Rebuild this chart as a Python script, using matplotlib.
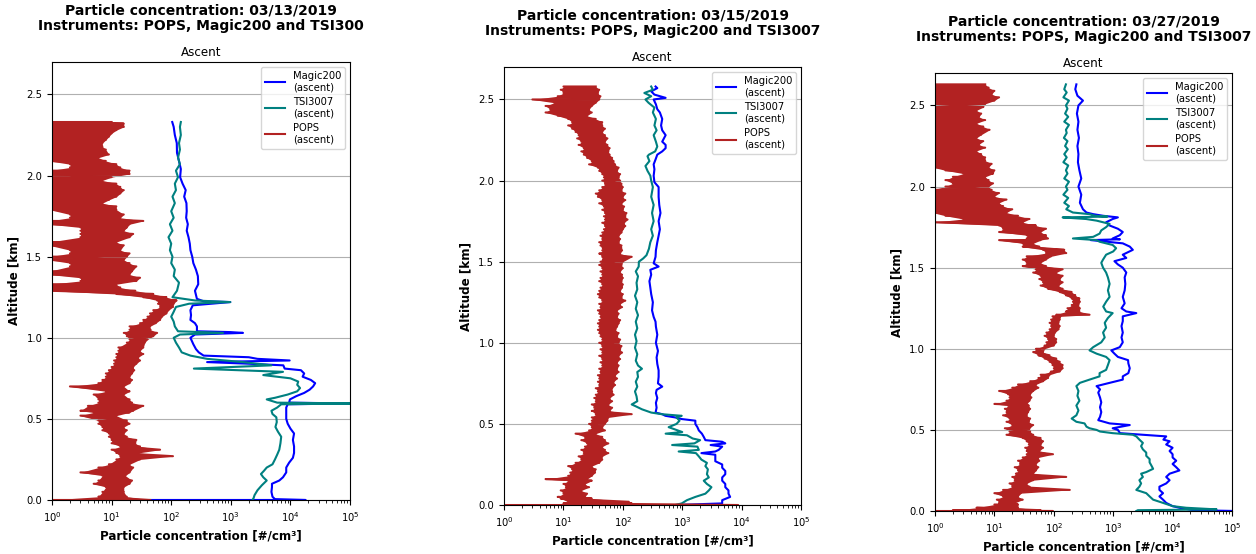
import numpy as np
import matplotlib
matplotlib.use("Agg")
import matplotlib.pyplot as plt

# ---- 03/13/2019 ----
magic_0313_alt = [0.0, 0.0, 0.005, 0.02, 0.05, 0.08, 0.10, 0.12, 0.14, 0.17, 0.20, 0.23, 0.26, 0.29, 0.33,
                  0.37, 0.41, 0.44, 0.47, 0.50, 0.53, 0.57, 0.59, 0.595, 0.60, 0.62, 0.64, 0.66, 0.68, 0.70,
                  0.72, 0.74, 0.76, 0.78, 0.80, 0.81, 0.83, 0.84, 0.85, 0.86, 0.87, 0.88, 0.89, 0.91, 0.93,
                  0.96, 1.00, 1.02, 1.03, 1.035, 1.04, 1.07, 1.09, 1.11, 1.14, 1.17, 1.20, 1.22, 1.225, 1.24,
                  1.29, 1.33, 1.38, 1.42, 1.46, 1.50, 1.54, 1.58, 1.62, 1.66, 1.70, 1.74, 1.78, 1.83, 1.87,
                  1.91, 1.95, 1.99, 2.04, 2.09, 2.14, 2.20, 2.25, 2.30, 2.33]
magic_0313 = [45, 18000, 5500, 5000, 4800, 4900, 4900, 6500, 7500, 8500, 8500, 9500, 11000, 11500, 11500,
              11000, 11500, 10000, 9000, 8500, 8500, 8500, 9000, 100000, 9500, 9800, 12500, 17000, 21000, 24000,
              26000, 22000, 16000, 17000, 15000, 8000, 7600, 2000, 400, 9700, 2800, 2000, 350, 290, 260,
              235, 210, 250, 1600, 980, 270, 270, 250, 210, 215, 210, 230, 980, 350, 270,
              250, 284, 280, 260, 235, 225, 210, 205, 195, 182, 190, 178, 182, 180, 165,
              175, 155, 141, 145, 135, 125, 124, 115, 110, 104]

tsi_0313_alt = [0.0, 0.01, 0.03, 0.06, 0.09, 0.12, 0.14, 0.16, 0.18, 0.20, 0.22, 0.25, 0.28, 0.31, 0.35,
                0.39, 0.42, 0.45, 0.48, 0.51, 0.53, 0.55, 0.57, 0.59, 0.595, 0.60, 0.62, 0.63, 0.65, 0.67,
                0.69, 0.71, 0.73, 0.75, 0.77, 0.79, 0.81, 0.83, 0.85, 0.87, 0.89, 0.91, 0.94, 0.97, 1.00,
                1.02, 1.03, 1.04, 1.07, 1.10, 1.13, 1.16, 1.19, 1.21, 1.22, 1.23, 1.25, 1.29, 1.34, 1.38,
                1.42, 1.46, 1.50, 1.54, 1.58, 1.62, 1.66, 1.70, 1.74, 1.78, 1.83, 1.87, 1.91, 1.95, 1.99,
                2.03, 2.07, 2.11, 2.16, 2.20, 2.25, 2.30, 2.33]
tsi_0313 = [2300, 2400, 2500, 2800, 3300, 4000, 3500, 3200, 3600, 4000, 5000, 5500, 6000, 6500, 6800,
            7000, 6200, 5600, 5900, 5800, 5000, 4800, 6000, 7000, 100000, 6000, 4000, 5500, 9000, 13000,
            14500, 13000, 13500, 10000, 3500, 7500, 240, 4800, 1600, 400, 210, 150, 135, 120, 110,
            140, 740, 130, 115, 110, 100, 110, 120, 200, 980, 250, 105, 125, 135, 110,
            115, 100, 105, 95, 100, 90, 105, 95, 110, 100, 115, 105, 120, 115, 130,
            120, 140, 130, 140, 135, 145, 140, 145]

pops_0313_alt = [0.0, 0.02, 0.05, 0.08, 0.10, 0.12, 0.15, 0.17, 0.20, 0.22, 0.25, 0.27, 0.29, 0.31, 0.33,
                 0.35, 0.37, 0.39, 0.41, 0.43, 0.45, 0.47, 0.49, 0.52, 0.54, 0.55, 0.58, 0.60, 0.62, 0.65,
                 0.67, 0.70, 0.72, 0.74, 0.76, 0.78, 0.80, 0.82, 0.84, 0.86, 0.88, 0.90, 0.92, 0.94, 0.97,
                 0.99, 1.01, 1.03, 1.05, 1.07, 1.09, 1.11, 1.13, 1.15, 1.17, 1.19, 1.21, 1.23, 1.25, 1.27,
                 1.29, 1.31, 1.33, 1.35, 1.37, 1.39, 1.41, 1.44, 1.46, 1.48, 1.50, 1.52, 1.54, 1.57, 1.59,
                 1.62, 1.64, 1.66, 1.68, 1.70, 1.72, 1.74, 1.76, 1.79, 1.81, 1.83, 1.85, 1.87, 1.89, 1.91,
                 1.93, 1.95, 1.97, 1.99, 2.01, 2.03, 2.05, 2.07, 2.09, 2.11, 2.13, 2.16, 2.18, 2.20, 2.22,
                 2.24, 2.26, 2.28, 2.30, 2.32, 2.33]
pops_0313_lo = [0.9, 6, 7, 8, 5, 6, 7, 3, 6, 9, 12, 14, 12, 10, 14,
                10, 10, 9, 9, 7, 7, 6, 6, 3, 5, 3, 4, 6, 6, 5,
                8, 2, 6, 7, 8, 8, 9, 10, 11, 11, 12, 12, 13, 13, 18,
                20, 18, 16, 20, 20, 30, 34, 40, 44, 50, 65, 60, 58, 34, 12,
                0.9, 0.9, 0.9, 3, 3, 0.9, 0.9, 2, 2, 0.9, 0.9, 2, 2, 0.9, 0.9,
                3, 3, 3, 3, 0.9, 0.9, 2, 2, 0.9, 0.9, 0.9, 0.9, 0.9, 0.9, 0.9,
                0.9, 0.9, 0.9, 0.9, 0.9, 0.9, 2, 2, 0.9, 0.9, 0.9, 0.9, 0.9, 0.9, 0.9,
                0.9, 0.9, 0.9, 0.9, 0.9, 0.9]
pops_0313_hi = [45, 18, 16, 16, 20, 22, 17, 20, 23, 20, 30, 107, 28, 65, 30,
                25, 26, 18, 16, 18, 16, 20, 18, 12, 20, 23, 34, 22, 20, 16,
                20, 16, 20, 22, 20, 22, 24, 23, 26, 30, 28, 34, 30, 34, 36,
                40, 50, 58, 45, 44, 55, 65, 70, 83, 90, 107, 110, 123, 83, 50,
                25, 14, 12, 26, 30, 20, 22, 26, 20, 16, 18, 20, 14, 16, 12,
                20, 23, 16, 18, 20, 34, 14, 16, 12, 12, 7, 9, 12, 14, 16,
                14, 12, 7, 10, 20, 20, 14, 12, 8, 6, 9, 8, 7, 7, 8,
                9, 10, 12, 16, 16, 10]

# ---- 03/15/2019 ----
magic_0315_alt = [0.0, 0.01, 0.03, 0.05, 0.07, 0.09, 0.11, 0.13, 0.15, 0.17, 0.19, 0.21, 0.23, 0.25, 0.27,
                  0.29, 0.31, 0.32, 0.33, 0.34, 0.36, 0.37, 0.38, 0.39, 0.40, 0.42, 0.44, 0.46, 0.48, 0.50,
                  0.52, 0.53, 0.54, 0.55, 0.56, 0.57, 0.60, 0.63, 0.66, 0.69, 0.71, 0.73, 0.75, 0.79, 0.83,
                  0.87, 0.91, 0.95, 1.00, 1.05, 1.10, 1.13, 1.16, 1.20, 1.25, 1.30, 1.34, 1.38, 1.42, 1.45,
                  1.47, 1.49, 1.53, 1.57, 1.62, 1.66, 1.70, 1.75, 1.80, 1.85, 1.90, 1.96, 1.99, 2.03, 2.07,
                  2.10, 2.13, 2.16, 2.18, 2.20, 2.22, 2.24, 2.28, 2.31, 2.34, 2.38, 2.42, 2.44, 2.47, 2.50,
                  2.51, 2.53, 2.55, 2.57, 2.58]
magic_0315 = [760, 4700, 4700, 6400, 6000, 6000, 5300, 5300, 4700, 4700, 5300, 5300, 4700, 4700, 3600,
              3600, 3600, 2100, 3600, 4100, 4700, 3000, 5300, 4700, 2450, 2300, 2140, 1900, 1800, 1660,
              1660, 980, 760, 520, 460, 355, 370, 360, 380, 360, 370, 460, 390, 400, 400,
              380, 370, 390, 360, 380, 360, 355, 330, 310, 320, 300, 290, 280, 300, 290,
              400, 330, 355, 360, 380, 400, 420, 400, 430, 410, 400, 400, 340, 330, 340,
              330, 355, 380, 460, 525, 525, 460, 525, 460, 440, 460, 420, 380, 360, 330,
              525, 340, 300, 380, 355]

tsi_0315_alt = [0.0, 0.01, 0.03, 0.05, 0.07, 0.09, 0.11, 0.13, 0.15, 0.17, 0.19, 0.22, 0.24, 0.26, 0.28,
                0.30, 0.32, 0.33, 0.34, 0.36, 0.37, 0.38, 0.40, 0.41, 0.43, 0.44, 0.45, 0.48, 0.50, 0.52,
                0.54, 0.55, 0.56, 0.57, 0.59, 0.61, 0.62, 0.64, 0.67, 0.70, 0.73, 0.76, 0.79, 0.82, 0.84,
                0.86, 0.89, 0.93, 0.97, 1.01, 1.05, 1.09, 1.13, 1.17, 1.21, 1.25, 1.29, 1.33, 1.37, 1.41,
                1.44, 1.47, 1.50, 1.52, 1.54, 1.58, 1.62, 1.66, 1.70, 1.75, 1.80, 1.85, 1.90, 1.96, 2.00,
                2.03, 2.06, 2.09, 2.12, 2.15, 2.16, 2.18, 2.21, 2.24, 2.28, 2.31, 2.34, 2.38, 2.42, 2.45,
                2.48, 2.50, 2.52, 2.54, 2.56, 2.58]
tsi_0315 = [760, 980, 1200, 1660, 2450, 2800, 3100, 2600, 2300, 2800, 2600, 2700, 2450, 2600, 2100,
            1900, 1700, 870, 1900, 1800, 675, 1600, 2000, 1500, 1200, 525, 1000, 590, 800, 900,
            800, 980, 450, 300, 210, 162, 141, 175, 170, 160, 175, 165, 180, 175, 210,
            180, 165, 175, 160, 170, 160, 175, 165, 180, 165, 175, 160, 175, 170, 180,
            165, 185, 186, 220, 250, 275, 290, 320, 300, 330, 310, 330, 300, 320, 300,
            290, 260, 240, 280, 260, 275, 350, 380, 360, 330, 370, 340, 360, 320, 340,
            270, 240, 300, 230, 320, 300]

pops_0315_alt = [0.0, 0.01, 0.02, 0.04, 0.05, 0.07, 0.09, 0.11, 0.13, 0.15, 0.16, 0.18, 0.20, 0.22, 0.24,
                 0.26, 0.28, 0.30, 0.32, 0.34, 0.36, 0.38, 0.40, 0.42, 0.44, 0.46, 0.48, 0.50, 0.52, 0.54,
                 0.56, 0.58, 0.60, 0.62, 0.64, 0.66, 0.68, 0.70, 0.72, 0.74, 0.76, 0.78, 0.80, 0.82, 0.84,
                 0.86, 0.88, 0.90, 0.92, 0.94, 0.96, 0.98, 1.00, 1.02, 1.04, 1.06, 1.08, 1.10, 1.12, 1.14,
                 1.16, 1.18, 1.20, 1.22, 1.24, 1.26, 1.28, 1.30, 1.32, 1.34, 1.36, 1.38, 1.40, 1.42, 1.44,
                 1.46, 1.48, 1.50, 1.53, 1.55, 1.57, 1.60, 1.62, 1.64, 1.66, 1.68, 1.70, 1.72, 1.74, 1.76,
                 1.78, 1.80, 1.82, 1.84, 1.86, 1.88, 1.90, 1.92, 1.94, 1.96, 1.98, 2.00, 2.02, 2.04, 2.06,
                 2.08, 2.10, 2.12, 2.14, 2.16, 2.18, 2.20, 2.22, 2.24, 2.26, 2.28, 2.30, 2.32, 2.34, 2.36,
                 2.38, 2.40, 2.42, 2.44, 2.46, 2.48, 2.50, 2.52, 2.54, 2.56, 2.58]
pops_0315_lo = [0.9, 10, 12, 9, 8, 10, 9, 11, 10, 12, 5, 12, 13, 14, 12,
                16, 20, 18, 22, 20, 23, 25, 20, 23, 16, 27, 30, 27, 30, 30,
                35, 30, 33, 30, 35, 33, 35, 38, 35, 40, 38, 40, 38, 42, 40,
                45, 42, 45, 40, 45, 42, 45, 40, 45, 42, 40, 38, 40, 38, 40,
                42, 40, 38, 42, 40, 45, 40, 38, 40, 42, 45, 40, 42, 45, 42,
                45, 40, 42, 45, 40, 45, 42, 40, 45, 42, 45, 48, 50, 45, 50,
                48, 50, 45, 48, 40, 45, 38, 35, 40, 45, 50, 45, 48, 45, 40,
                38, 27, 30, 25, 22, 20, 22, 18, 20, 17, 18, 16, 14, 12, 14,
                12, 8, 5, 6, 5, 7, 3, 8, 10, 9, 10]
pops_0315_hi = [8700, 141, 126, 30, 23, 25, 20, 27, 23, 30, 25, 30, 34, 35, 30,
                40, 45, 45, 57, 50, 45, 57, 50, 45, 35, 50, 45, 50, 55, 57,
                141, 60, 66, 57, 66, 60, 70, 66, 66, 74, 70, 80, 74, 85, 80,
                85, 80, 90, 85, 97, 90, 95, 85, 90, 80, 85, 75, 80, 85, 90,
                80, 85, 80, 97, 90, 110, 95, 100, 90, 97, 100, 95, 100, 97, 90,
                100, 95, 100, 141, 90, 97, 95, 85, 90, 85, 95, 100, 110, 105, 120,
                110, 115, 100, 105, 95, 110, 100, 110, 95, 100, 95, 90, 85, 90, 80,
                85, 74, 70, 66, 60, 57, 60, 55, 50, 55, 50, 45, 50, 45, 45,
                35, 25, 30, 27, 30, 35, 40, 42, 38, 40, 35]

# ---- 03/27/2019 ----
magic_0327_alt = [0.0, 0.005, 0.02, 0.03, 0.05, 0.07, 0.09, 0.11, 0.13, 0.15, 0.17, 0.19, 0.21, 0.23, 0.25,
                  0.27, 0.29, 0.31, 0.33, 0.35, 0.37, 0.39, 0.41, 0.43, 0.44, 0.46, 0.47, 0.48, 0.50, 0.51,
                  0.53, 0.54, 0.56, 0.58, 0.61, 0.64, 0.67, 0.70, 0.73, 0.75, 0.77, 0.79, 0.81, 0.83, 0.85,
                  0.88, 0.91, 0.93, 0.95, 0.97, 0.99, 1.01, 1.04, 1.07, 1.10, 1.14, 1.17, 1.20, 1.22, 1.23,
                  1.25, 1.28, 1.32, 1.36, 1.40, 1.44, 1.47, 1.50, 1.52, 1.54, 1.56, 1.58, 1.61, 1.63, 1.65,
                  1.67, 1.675, 1.68, 1.70, 1.72, 1.74, 1.76, 1.78, 1.80, 1.81, 1.82, 1.83, 1.84, 1.86, 1.90,
                  1.95, 2.00, 2.05, 2.10, 2.15, 2.20, 2.25, 2.30, 2.35, 2.40, 2.45, 2.50, 2.53, 2.56, 2.60,
                  2.63]
magic_0327 = [120000, 22000, 13000, 10000, 7800, 6900, 6000, 6900, 6000, 6000, 7800, 8900, 7800, 8900, 13000,
              11500, 10000, 11500, 10000, 10000, 8900, 10000, 7800, 8900, 7000, 7800, 3160, 1300, 1200, 980,
              1900, 870, 560, 600, 630, 600, 630, 600, 560, 600, 525, 870, 1450, 1450, 1800,
              1900, 1800, 1780, 1200, 1050, 930, 1290, 1450, 1380, 1450, 1380, 1450, 1450, 2450, 1660,
              1380, 1560, 1450, 1560, 1600, 1560, 1660, 1450, 1200, 1050, 1660, 1450, 2140, 1900, 1450,
              420, 1300, 980, 1290, 1450, 1200, 870, 760, 980, 1200, 675, 460, 355, 310, 275,
              290, 260, 290, 270, 255, 260, 250, 265, 250, 260, 245, 260, 310, 250, 230,
              240]

tsi_0327_alt = [0.0, 0.005, 0.01, 0.02, 0.03, 0.05, 0.07, 0.09, 0.11, 0.13, 0.15, 0.17, 0.19, 0.21, 0.23,
                0.24, 0.26, 0.28, 0.30, 0.32, 0.34, 0.36, 0.38, 0.40, 0.42, 0.44, 0.46, 0.47, 0.48, 0.49,
                0.50, 0.51, 0.52, 0.54, 0.55, 0.57, 0.59, 0.62, 0.65, 0.68, 0.71, 0.74, 0.77, 0.79, 0.81,
                0.83, 0.85, 0.87, 0.90, 0.93, 0.95, 0.97, 0.99, 1.01, 1.04, 1.07, 1.10, 1.13, 1.16, 1.19,
                1.22, 1.23, 1.26, 1.29, 1.32, 1.36, 1.40, 1.44, 1.47, 1.50, 1.53, 1.55, 1.58, 1.60, 1.62,
                1.64, 1.66, 1.67, 1.68, 1.69, 1.71, 1.73, 1.75, 1.77, 1.79, 1.80, 1.81, 1.815, 1.82, 1.83,
                1.84, 1.86, 1.88, 1.90, 1.93, 1.95, 1.98, 2.00, 2.03, 2.05, 2.08, 2.10, 2.13, 2.15, 2.18,
                2.20, 2.23, 2.25, 2.28, 2.30, 2.33, 2.35, 2.38, 2.40, 2.43, 2.45, 2.48, 2.50, 2.53, 2.55,
                2.58, 2.60, 2.63]
tsi_0327 = [2450, 2600, 55000, 17000, 10000, 6900, 4700, 4100, 3600, 2450, 2760, 2950, 2760, 3160, 2950,
            3600, 4700, 4400, 4100, 4100, 3600, 3600, 3160, 2950, 3160, 2760, 2450, 2140, 980, 600,
            525, 400, 355, 330, 240, 200, 240, 260, 240, 270, 250, 260, 240, 275, 400,
            590, 590, 760, 815, 870, 760, 525, 400, 460, 630, 720, 675, 760, 720, 815,
            980, 760, 680, 760, 870, 815, 870, 815, 760, 675, 630, 675, 760, 1000, 1120,
            980, 590, 525, 210, 460, 590, 630, 760, 870, 525, 350, 141, 800, 500, 400,
            210, 162, 180, 150, 175, 145, 170, 160, 180, 150, 170, 160, 175, 145, 165,
            150, 172, 155, 170, 148, 165, 160, 180, 150, 175, 155, 170, 160, 180, 145,
            165, 150, 160]

pops_0327_alt = [0.0, 0.005, 0.02, 0.04, 0.05, 0.07, 0.09, 0.11, 0.13, 0.15, 0.17, 0.19, 0.21, 0.23, 0.25,
                 0.27, 0.29, 0.31, 0.33, 0.35, 0.37, 0.39, 0.41, 0.43, 0.45, 0.47, 0.49, 0.51, 0.53, 0.55,
                 0.57, 0.59, 0.61, 0.63, 0.65, 0.66, 0.68, 0.70, 0.72, 0.74, 0.76, 0.78, 0.80, 0.82, 0.84,
                 0.86, 0.88, 0.90, 0.92, 0.94, 0.96, 0.98, 1.00, 1.02, 1.04, 1.06, 1.08, 1.10, 1.12, 1.14,
                 1.16, 1.18, 1.20, 1.21, 1.23, 1.25, 1.27, 1.29, 1.31, 1.33, 1.35, 1.37, 1.39, 1.41, 1.43,
                 1.45, 1.47, 1.49, 1.51, 1.53, 1.55, 1.57, 1.59, 1.61, 1.63, 1.65, 1.67, 1.68, 1.70, 1.72,
                 1.74, 1.76, 1.78, 1.80, 1.82, 1.84, 1.86, 1.88, 1.90, 1.92, 1.94, 1.96, 1.98, 2.00, 2.02,
                 2.04, 2.06, 2.08, 2.10, 2.12, 2.14, 2.16, 2.18, 2.20, 2.22, 2.24, 2.26, 2.28, 2.30, 2.32,
                 2.35, 2.37, 2.39, 2.41, 2.43, 2.45, 2.47, 2.49, 2.51, 2.53, 2.55, 2.57, 2.59, 2.61, 2.63]
pops_0327_lo = [0.9, 2, 5, 10, 12, 11, 14, 10, 14, 20, 18, 22, 20, 23, 25,
                22, 27, 25, 30, 35, 35, 33, 38, 35, 30, 16, 18, 15, 20, 16,
                18, 14, 16, 15, 17, 10, 16, 18, 17, 12, 20, 25, 40, 55, 60,
                90, 100, 95, 85, 70, 55, 45, 50, 70, 75, 80, 70, 75, 85, 90,
                85, 90, 95, 110, 160, 170, 200, 210, 200, 160, 126, 80, 60, 66, 57,
                60, 45, 50, 30, 35, 30, 35, 74, 66, 30, 30, 12, 35, 35, 12,
                14, 12, 0.9, 3, 1.5, 0.9, 0.9, 0.9, 0.9, 0.9, 0.9, 0.9, 0.9, 1.5, 2,
                1.5, 2, 3, 1.5, 0.9, 0.9, 0.9, 0.9, 0.9, 0.9, 0.9, 0.9, 0.9, 0.9, 0.9,
                0.9, 0.9, 0.9, 0.9, 0.9, 0.9, 0.9, 0.9, 0.9, 0.9, 0.9, 0.9, 0.9, 0.9, 0.9]
pops_0327_hi = [97, 60, 25, 25, 22, 30, 25, 28, 186, 39, 35, 45, 162, 45, 50,
                55, 50, 57, 55, 97, 57, 66, 60, 66, 60, 45, 40, 39, 45, 38,
                40, 35, 37, 40, 38, 35, 39, 42, 40, 45, 55, 50, 66, 80, 85,
                126, 141, 141, 126, 110, 85, 66, 70, 100, 110, 110, 100, 105, 120, 126,
                120, 126, 130, 400, 270, 275, 260, 275, 270, 230, 200, 141, 120, 141, 126,
                141, 110, 141, 74, 60, 74, 90, 162, 150, 57, 45, 60, 80, 74, 60,
                74, 50, 30, 39, 25, 16, 20, 14, 12, 16, 10, 12, 9, 8, 9.5,
                8, 7, 9.5, 10, 8, 9, 7, 7, 6, 5, 7, 5.5, 6.5, 5, 6,
                8.3, 6.5, 5, 7, 5.5, 6, 5, 6.5, 7, 10, 12, 9, 10, 8, 7]

DAYS = ["03/13/2019", "03/15/2019", "03/27/2019"]
INSTRUMENTS = ["Instruments: POPS, Magic200 and TSI300",
               "Instruments: POPS, Magic200 and TSI3007",
               "Instruments: POPS, Magic200 and TSI3007"]


def zigzag(alt, lo, hi):
    # each POPS row swings between its low and high reading
    y = np.repeat(alt, 2)
    x = np.column_stack([lo, hi]).ravel()
    return x, y


def plot_profile(ax, magic, tsi, pops, day, instruments):
    ax.plot(magic[1], magic[0], color="blue", lw=1.5, label="Magic200\n(ascent)")
    ax.plot(tsi[1], tsi[0], color="teal", lw=1.5, label="TSI3007\n(ascent)")
    px, py = zigzag(*pops)
    ax.fill_betweenx(pops[0], pops[1], pops[2], color="firebrick", lw=0)
    ax.plot(px, py, color="firebrick", lw=1.5, label="POPS\n(ascent)")

    ax.set_xscale("log")
    ax.set_xlim(1, 1e5)
    ax.set_ylim(0, 2.7)
    ax.set_yticks([0.0, 0.5, 1.0, 1.5, 2.0, 2.5])
    ax.grid(axis="y", color="#b0b0b0", lw=0.8)
    ax.tick_params(labelsize=7.2)
    ax.set_xlabel("Particle concentration [#/cm³]", fontsize=8.6, fontweight="bold")
    ax.set_ylabel("Altitude [km]", fontsize=8.6, fontweight="bold")
    ax.set_title("Ascent", fontsize=8.6, pad=4)
    ax.legend(loc="upper right", fontsize=7.2, handlelength=2.0, borderpad=0.4,
              labelspacing=0.45)
    ax.text(0.5, 1.10, f"Particle concentration: {day}\n{instruments}",
            transform=ax.transAxes, ha="center", va="center", fontsize=10,
            fontweight="bold", linespacing=1.2)


fig = plt.figure(figsize=(12.56, 5.54), dpi=100)
boxes = [[0.0414, 0.0975, 0.2373, 0.7906],
         [0.4013, 0.0884, 0.2365, 0.7906],
         [0.7444, 0.0776, 0.2365, 0.7906]]

data = [
    ((magic_0313_alt, magic_0313), (tsi_0313_alt, tsi_0313), (pops_0313_alt, pops_0313_lo, pops_0313_hi)),
    ((magic_0315_alt, magic_0315), (tsi_0315_alt, tsi_0315), (pops_0315_alt, pops_0315_lo, pops_0315_hi)),
    ((magic_0327_alt, magic_0327), (tsi_0327_alt, tsi_0327), (pops_0327_alt, pops_0327_lo, pops_0327_hi)),
]

for box, (magic, tsi, pops), day, instr in zip(boxes, data, DAYS, INSTRUMENTS):
    ax = fig.add_axes(box)
    plot_profile(ax, magic, tsi, pops, day, instr)

fig.savefig("out.png", dpi=100)
